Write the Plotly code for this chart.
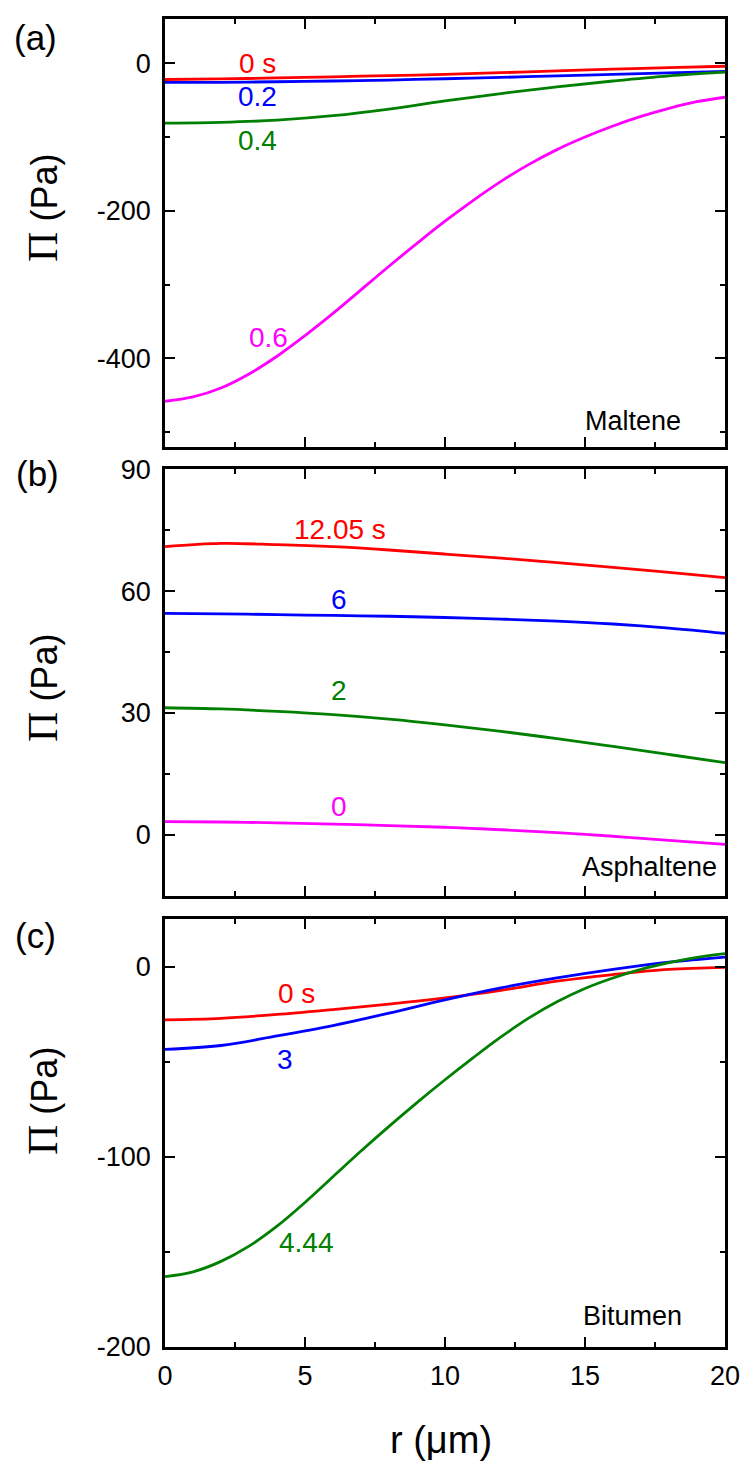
import plotly.graph_objects as go

# ---------------- data ----------------
r_step2 = [0, 2, 4, 6, 8, 10, 12, 14, 16, 18, 20]
r_step1 = list(range(0, 21))

# Panel (a) Maltene
a_red_0s = [-22, -21.2, -19.8, -18.3, -16.7, -15, -12.8, -10.3, -8, -6, -4]
a_blue_02 = [-26, -25.8, -25, -24, -22.7, -21, -19.2, -17, -15, -13, -11]
a_green_04 = [-81, -80, -77, -71, -62, -51, -41, -32, -24, -17, -12]
a_mag_06 = [-458, -452, -440, -421, -397, -369, -339, -307, -275, -244, -214,
            -186, -160, -137, -117, -100, -85, -72, -61, -52, -46]

# Panel (b) Asphaltene
b_red_1205 = [70.9, 71.7, 71.4, 70.9, 70.1, 69.1, 68.1, 67.0, 65.8, 64.6, 63.3]
b_blue_6 = [54.5, 54.4, 54.2, 54.0, 53.8, 53.5, 53.1, 52.6, 51.9, 50.9, 49.6]
b_green_2 = [31.3, 31.0, 30.4, 29.6, 28.5, 27.1, 25.5, 23.7, 21.8, 19.8, 17.8]
b_mag_0 = [3.3, 3.2, 3.0, 2.7, 2.3, 1.9, 1.3, 0.6, -0.3, -1.3, -2.3]

# Panel (c) Bitumen
c_red_0s = [-28, -27.2, -25.2, -22.6, -19.8, -16.5, -12.5, -7.7, -4.2, -1.5, -0.4]
c_blue_3 = [-43.5, -41.5, -36.5, -31, -24.5, -17.5, -11.2, -6, -1.5, 2.3, 5]
c_green_444 = [-163, -160.5, -155, -147, -136.5, -124, -110.5, -97, -84, -71.5, -59.5,
               -48, -37, -27, -18.5, -11.5, -6, -1.5, 2, 4.8, 6.8]

x_ticks = [0, 5, 10, 15, 20]
x_ticktext = ["0", "5", "10", "15", "20"]
ya_ticks = [-400, -200, 0]
ya_ticktext = ["-400", "-200", "0"]
yb_ticks = [0, 30, 60, 90]
yb_ticktext = ["0", "30", "60", "90"]
yc_ticks = [-200, -100, 0]
yc_ticktext = ["-200", "-100", "0"]

RED = "#FF0000"
BLUE = "#0000FF"
GREEN = "#008000"
MAG = "#FF00FF"
FONT = "Liberation Sans, Arial, sans-serif"

# ---------------- figure ----------------
fig = go.Figure()

def add(x, y, color, xa, ya):
    fig.add_trace(go.Scatter(x=x, y=y, mode="lines",
                             line=dict(color=color, width=2.8, shape="spline", smoothing=1.0),
                             xaxis=xa, yaxis=ya, showlegend=False, hoverinfo="skip"))

add(r_step2, a_red_0s, RED, "x", "y")
add(r_step2, a_blue_02, BLUE, "x", "y")
add(r_step2, a_green_04, GREEN, "x", "y")
add(r_step1, a_mag_06, MAG, "x", "y")

add(r_step2, b_red_1205, RED, "x2", "y2")
add(r_step2, b_blue_6, BLUE, "x2", "y2")
add(r_step2, b_green_2, GREEN, "x2", "y2")
add(r_step2, b_mag_0, MAG, "x2", "y2")

add(r_step2, c_red_0s, RED, "x3", "y3")
add(r_step2, c_blue_3, BLUE, "x3", "y3")
add(r_step1, c_green_444, GREEN, "x3", "y3")

tickfont = dict(family=FONT, size=27, color="black")

def xaxis(anchor, labels):
    return dict(range=[0, 20], tickvals=x_ticks, ticktext=x_ticktext, showticklabels=labels, anchor=anchor,
                domain=[0, 1], showline=True, linecolor="black", linewidth=2.5, mirror="allticks",
                ticks="inside", ticklen=10, tickwidth=2, tickcolor="black",
                minor=dict(dtick=2.5, tick0=0, ticks="inside", ticklen=5, tickwidth=2, tickcolor="black", showgrid=False),
                showgrid=False, zeroline=False, tickfont=tickfont, ticklabelstandoff=3, automargin=False)

def yaxis(anchor, dom, rng, tv, tt, mdtick):
    return dict(range=rng, tickvals=tv, ticktext=tt, anchor=anchor, domain=dom,
                showline=True, linecolor="black", linewidth=2.5, mirror="allticks",
                ticks="inside", ticklen=10, tickwidth=2, tickcolor="black",
                minor=dict(dtick=mdtick, tick0=0, ticks="inside", ticklen=5, tickwidth=2, tickcolor="black", showgrid=False),
                showgrid=False, zeroline=False, tickfont=tickfont, ticklabelstandoff=6, automargin=False)

fig.update_layout(
    width=745, height=1462,
    margin=dict(l=165, r=20, t=19, b=115, autoexpand=False),
    paper_bgcolor="white", plot_bgcolor="white",
    xaxis=xaxis("y", False),
    xaxis2=xaxis("y2", False),
    xaxis3=xaxis("y3", True),
    yaxis=yaxis("x", [0.6777, 1.0], [-520, 60], ya_ticks, ya_ticktext, 100),
    yaxis2=yaxis("x2", [0.3396, 0.6611], [-15, 90], yb_ticks, yb_ticktext, 15),
    yaxis3=yaxis("x3", [0.0, 0.3223], [-200, 25], yc_ticks, yc_ticktext, 50),
)

anns = []

def lab(text, x, y, color, xr, yr, size=28):
    anns.append(dict(text=text, x=x, y=y, xref=xr, yref=yr, showarrow=False,
                     xanchor="center", yanchor="middle",
                     font=dict(family=FONT, size=size, color=color)))

# curve labels
lab("0 s", 3.32, 0, RED, "x", "y")
lab("0.2", 3.32, -45.5, BLUE, "x", "y")
lab("0.4", 3.32, -105, GREEN, "x", "y")
lab("0.6", 3.68, -371, MAG, "x", "y")
lab("Maltene", 16.7, -485, "black", "x", "y", 27)

lab("12.05 s", 6.25, 75.2, RED, "x2", "y2")
lab("6", 6.21, 57.8, BLUE, "x2", "y2")
lab("2", 6.21, 35.5, GREEN, "x2", "y2")
lab("0", 6.21, 6.9, MAG, "x2", "y2")
lab("Asphaltene", 17.3, -7.8, "black", "x2", "y2", 27)

lab("0 s", 4.68, -14.2, RED, "x3", "y3")
lab("3", 4.29, -49, BLUE, "x3", "y3")
lab("4.44", 5.07, -145.3, GREEN, "x3", "y3")
lab("Bitumen", 16.68, -183.7, "black", "x3", "y3", 27)

# panel letters
for t, px, py in [("(a)", -0.232, 0.9864), ("(b)", -0.227, 0.6581), ("(c)", -0.232, 0.3095)]:
    lab(t, px, py, "black", "paper", "paper", 35)

# y titles
ytitle = "<span style='font-family:Liberation Serif, Times New Roman, serif;font-size:42px'>\u03a0</span> (Pa)"
for py in [0.8577, 0.4962, 0.1852]:
    anns.append(dict(text=ytitle, x=-0.218, y=py, xref="paper", yref="paper", showarrow=False,
                     textangle=-90, xanchor="center", yanchor="middle",
                     font=dict(family=FONT, size=36, color="black")))

# x title
anns.append(dict(text="r (\u03bcm)", x=0.493, y=-0.070, xref="paper", yref="paper", showarrow=False,
                 xanchor="center", yanchor="middle", font=dict(family=FONT, size=38, color="black")))

fig.update_layout(annotations=anns)

fig.write_html("out.html")
